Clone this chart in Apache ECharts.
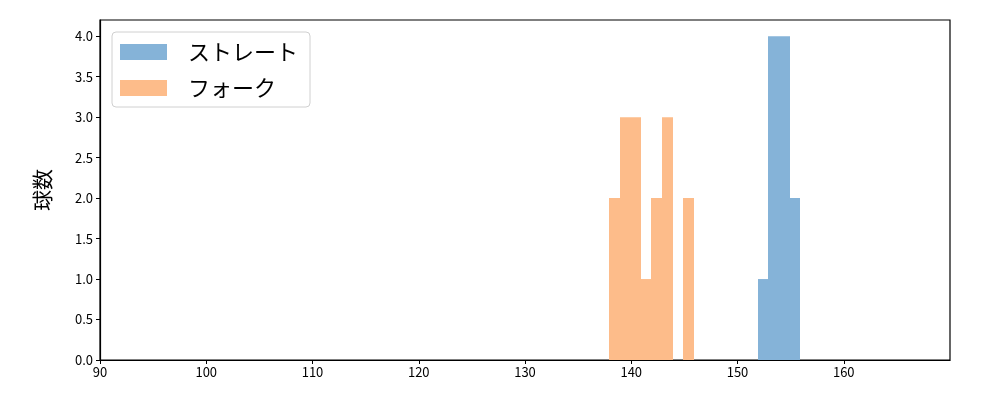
<!DOCTYPE html>
<html><head><meta charset="utf-8">
<script src="https://cdn.jsdelivr.net/npm/echarts@6/dist/echarts.min.js"></script>
<style>html,body{margin:0;padding:0;background:#fff}#c{width:1000px;height:400px}</style>
</head><body><div id="c"></div>
<script>
const seriesNames = ["ストレート", "フォーク"];
const straightEdges = [151.9, 152.9, 153.9, 154.9, 155.9];
const straightCounts = [1, 4, 4, 2];
const forkEdges = [137.9, 138.9, 139.9, 140.9, 141.9, 142.9, 143.9, 144.9, 145.9];
const forkCounts = [2, 3, 3, 1, 2, 3, 0, 2];
const xTicks = [90, 100, 110, 120, 130, 140, 150, 160];
const yTicks = [0, 0.5, 1, 1.5, 2, 2.5, 3, 3.5, 4];
const colors = ["#85b3d8", "#fdbc8a"];
const FONT = "Noto Sans CJK JP";

function binsData(edges, counts) {
  return counts.map((c, i) => [edges[i], edges[i + 1], c]);
}
function renderBin(params, api) {
  const p0 = api.coord([api.value(0), api.value(2)]);
  const p1 = api.coord([api.value(1), 0]);
  const x0 = Math.round(p0[0]), x1 = Math.round(p1[0]);
  return {
    type: 'rect',
    shape: { x: x0, y: p0[1], width: x1 - x0, height: p1[1] - p0[1] },
    style: { fill: api.visual('color'), stroke: null }
  };
}
const chart = echarts.init(document.getElementById('c'), null, { renderer: 'canvas' });
chart.setOption({
  animation: false,
  backgroundColor: '#fff',
  grid: { left: 100, right: 50, top: 20, bottom: 40, show: true, borderColor: '#000', borderWidth: 1.2, backgroundColor: 'transparent' },
  legend: {
    left: 112, top: 32, orient: 'vertical',
    padding: [9, 12, 8, 8], itemGap: 14, itemWidth: 47, itemHeight: 16,
    borderColor: '#d0d0d0', borderWidth: 1, borderRadius: 4,
    textStyle: { fontFamily: FONT, fontSize: 22, color: '#000', padding: [0, 0, 0, 16] },
    icon: 'rect',
    data: seriesNames
  },
  xAxis: {
    type: 'value', min: 90, max: 170, interval: 10,
    axisLine: { show: true, lineStyle: { color: '#000', width: 1.2 } },
    axisTick: { show: true, length: 4, inside: false, lineStyle: { color: '#000' }, customValues: xTicks },
    axisLabel: { fontFamily: FONT, fontSize: 13, color: '#000', margin: 6, customValues: xTicks },
    splitLine: { show: false }
  },
  yAxis: {
    type: 'value', min: 0, max: 4.2, interval: 0.5,
    name: '球数', nameLocation: 'middle', nameGap: 47,
    nameTextStyle: { fontFamily: FONT, fontSize: 21, color: '#000' },
    axisLine: { show: true, lineStyle: { color: '#000', width: 1.2 } },
    axisTick: { show: true, length: 4, lineStyle: { color: '#000' }, customValues: yTicks },
    axisLabel: { fontFamily: FONT, fontSize: 13, color: '#000', margin: 7, customValues: yTicks, formatter: v => v.toFixed(1) },
    splitLine: { show: false }
  },
  series: [
    { name: seriesNames[0], type: 'custom', renderItem: renderBin, itemStyle: { color: colors[0] },
      encode: { x: [0, 1], y: 2 }, data: binsData(straightEdges, straightCounts) },
    { name: seriesNames[1], type: 'custom', renderItem: renderBin, itemStyle: { color: colors[1] },
      encode: { x: [0, 1], y: 2 }, data: binsData(forkEdges, forkCounts) }
  ]
});
</script></body></html>
